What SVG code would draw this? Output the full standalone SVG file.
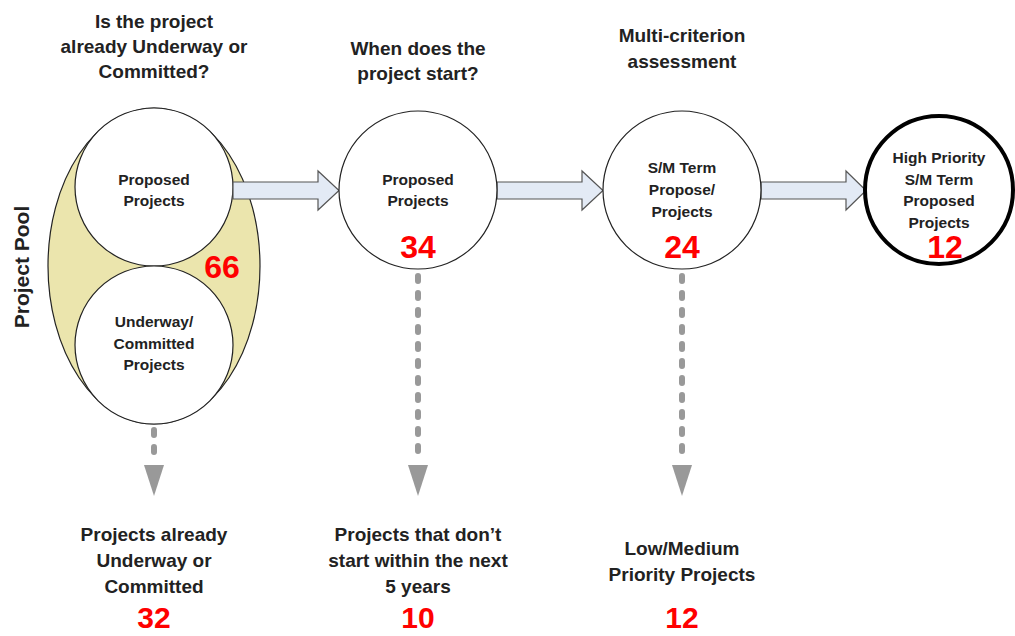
<svg xmlns="http://www.w3.org/2000/svg" width="1015" height="636" viewBox="0 0 1015 636">
<defs>
<style>
.t{font-family:"Liberation Sans",Arial,sans-serif;font-weight:bold;fill:#222;text-anchor:middle}
.h{font-size:19px}
.c{font-size:15.5px}
.n{font-family:"Liberation Sans",Arial,sans-serif;font-weight:bold;fill:#ff0000;font-size:32px;text-anchor:middle}
.nb{font-size:30px}
.circ{fill:#fff;stroke:#222;stroke-width:1.2}
.blk{fill:#e3eaf5;stroke:#555;stroke-width:1.2}
.dash{stroke:#999;stroke-width:6;stroke-linecap:round;stroke-dasharray:5 12;fill:none}
.head{fill:#999}
</style>
</defs>
<g id="titles">
<text class="t h" x="154" y="28">Is the project</text>
<text class="t h" x="154" y="53">already Underway or</text>
<text class="t h" x="154" y="78">Committed?</text>
<text class="t h" x="418" y="55">When does the</text>
<text class="t h" x="418" y="80">project start?</text>
<text class="t h" x="682" y="42">Multi-criterion</text>
<text class="t h" x="682" y="68">assessment</text>
</g>
<g id="pool">
<ellipse cx="154" cy="266" rx="106" ry="158" fill="#ebe5ad" stroke="#222" stroke-width="1.2"/>
<text class="t" style="font-size:21px" transform="translate(29,267) rotate(-90)">Project Pool</text>
</g>
<g id="proposed-pool">
<circle class="circ" cx="154" cy="187" r="79"/>
<text class="t c" x="154" y="185">Proposed</text>
<text class="t c" x="154" y="206">Projects</text>
</g>
<g id="underway">
<circle class="circ" cx="154" cy="345" r="79"/>
<text class="t c" x="154" y="327">Underway/</text>
<text class="t c" x="154" y="349">Committed</text>
<text class="t c" x="154" y="370">Projects</text>
</g>
<text class="n" x="222" y="278">66</text>
<g id="connectors">
<polygon class="blk" points="233,182 318,182 318,171 339,190.5 318,210 318,199 233,199"/>
<polygon class="blk" points="497,182 582,182 582,171 603,190.5 582,210 582,199 497,199"/>
<polygon class="blk" points="761,182 846,182 846,171 866,190.5 846,210 846,199 761,199"/>
<path class="dash" d="M154,430 V462"/>
<polygon class="head" points="144,465 164,465 154,496"/>
<path class="dash" d="M418,276 V462"/>
<polygon class="head" points="408,465 428,465 418,496"/>
<path class="dash" d="M682,276 V462"/>
<polygon class="head" points="672,465 692,465 682,496"/>
</g>
<g id="proposed">
<circle class="circ" cx="418" cy="190" r="79"/>
<text class="t c" x="418" y="185">Proposed</text>
<text class="t c" x="418" y="206">Projects</text>
<text class="n" x="418" y="258">34</text>
</g>
<g id="sm-term">
<circle class="circ" cx="682" cy="190" r="79"/>
<text class="t c" x="682" y="173">S/M Term</text>
<text class="t c" x="682" y="195">Propose/</text>
<text class="t c" x="682" y="217">Projects</text>
<text class="n" x="682" y="258">24</text>
</g>
<g id="high-priority">
<circle cx="939" cy="190" r="74" fill="#fff" stroke="#000" stroke-width="4"/>
<text class="t c" x="939" y="163">High Priority</text>
<text class="t c" x="939" y="185">S/M Term</text>
<text class="t c" x="939" y="206">Proposed</text>
<text class="t c" x="939" y="228">Projects</text>
<text class="n" x="945" y="258">12</text>
</g>
<g id="outcomes">
<text class="t h" x="154" y="541">Projects already</text>
<text class="t h" x="154" y="567">Underway or</text>
<text class="t h" x="154" y="593">Committed</text>
<text class="n nb" x="154" y="628">32</text>
<text class="t h" x="418" y="541">Projects that don’t</text>
<text class="t h" x="418" y="567">start within the next</text>
<text class="t h" x="418" y="593">5 years</text>
<text class="n nb" x="418" y="628">10</text>
<text class="t h" x="682" y="555">Low/Medium</text>
<text class="t h" x="682" y="581">Priority Projects</text>
<text class="n nb" x="682" y="628">12</text>
</g>
</svg>
